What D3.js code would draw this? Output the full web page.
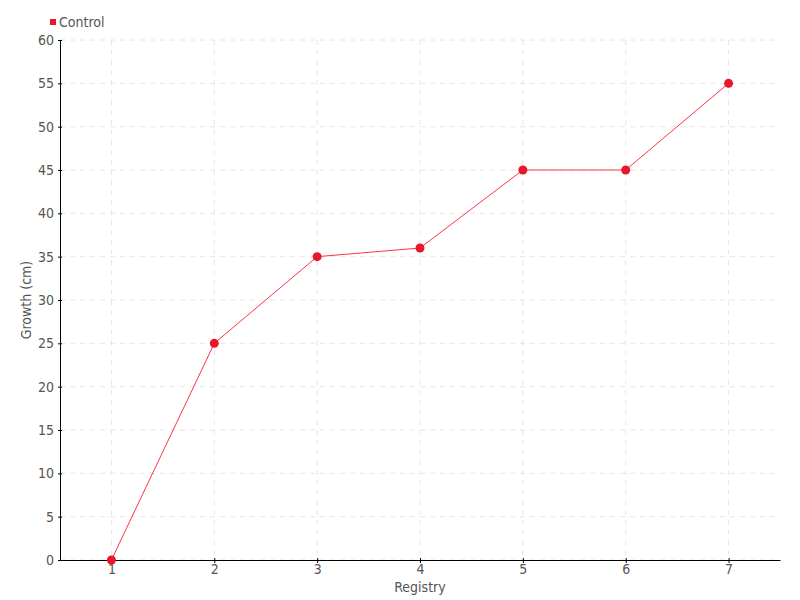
<!DOCTYPE html>
<html>
<head>
<meta charset="utf-8">
<script src="https://cdn.jsdelivr.net/npm/d3@7"></script>
<style>
  body { margin: 0; background: #fff; }
  text { font-family: "Liberation Sans Narrow", "DejaVu Sans Condensed", sans-serif; }
</style>
</head>
<body>
<svg id="chart" width="800" height="600"></svg>
<script>
// datos del gráfico
const registry = [1, 2, 3, 4, 5, 6, 7];
const growth = [0, 25, 35, 36, 45, 45, 55];
const yTicks = [0, 5, 10, 15, 20, 25, 30, 35, 40, 45, 50, 55, 60];
const seriesName = "Control";

const margin = { top: 40, right: 20, bottom: 40, left: 60 };
const width = 800, height = 600;
const svg = d3.select("#chart");

const x = d3.scaleLinear().domain([0.5, 7.5]).range([margin.left, width - margin.right]);
const y = d3.scaleLinear().domain([0, 60]).range([height - margin.bottom, margin.top]);

// rejilla
const grid = svg.append("g").attr("stroke", "#e6e6e6").attr("stroke-dasharray", "5,5");
grid.selectAll(".h").data(yTicks).enter().append("line")
  .attr("x1", margin.left).attr("x2", width - margin.right)
  .attr("y1", d => y(d)).attr("y2", d => y(d));
grid.selectAll(".v").data(registry).enter().append("line")
  .attr("y1", margin.top).attr("y2", height - margin.bottom)
  .attr("x1", d => x(d)).attr("x2", d => x(d));

// ejes
const yAxis = svg.append("g")
  .attr("transform", `translate(${margin.left},0)`)
  .call(d3.axisLeft(y).tickValues(yTicks).tickSize(2).tickPadding(4).tickSizeOuter(0));
yAxis.selectAll(".tick line").attr("x2", 2).attr("x1", -2);

const xAxis = svg.append("g")
  .attr("transform", `translate(0,${height - margin.bottom})`)
  .call(d3.axisBottom(x).tickValues(registry).tickFormat(d3.format("d")).tickSize(4).tickPadding(0).tickSizeOuter(0));
xAxis.selectAll(".tick line").attr("y1", -2).attr("y2", 3);

[xAxis, yAxis].forEach(a => {
  a.select(".domain").attr("stroke", "#000");
  a.selectAll(".tick line").attr("stroke", "#000");
  a.selectAll("text").attr("fill", "#555").style("font-size", "14px");
});

// etiquetas
svg.append("text")
  .attr("x", (margin.left + width - margin.right) / 2).attr("y", 592)
  .attr("text-anchor", "middle").attr("fill", "#555").style("font-size", "14px")
  .text("Registry");
svg.append("text")
  .attr("transform", "translate(31,300) rotate(-90)")
  .attr("text-anchor", "middle").attr("fill", "#555").style("font-size", "14px")
  .text("Growth (cm)");

// línea y puntos
const line = d3.line().x((d, i) => x(registry[i])).y(d => y(d));
svg.append("path").datum(growth)
  .attr("fill", "none").attr("stroke", "#ff3344").attr("stroke-width", 1)
  .attr("d", line);
svg.selectAll(".dot").data(growth).enter().append("circle")
  .attr("cx", (d, i) => x(registry[i])).attr("cy", d => y(d))
  .attr("r", 4.5).attr("fill", "#e8172b");

// leyenda
svg.append("rect").attr("x", 50).attr("y", 19).attr("width", 6).attr("height", 6).attr("fill", "#e8172b");
svg.append("text").attr("x", 59).attr("y", 27).attr("fill", "#555").style("font-size", "14px").text(seriesName);
</script>
</body>
</html>
